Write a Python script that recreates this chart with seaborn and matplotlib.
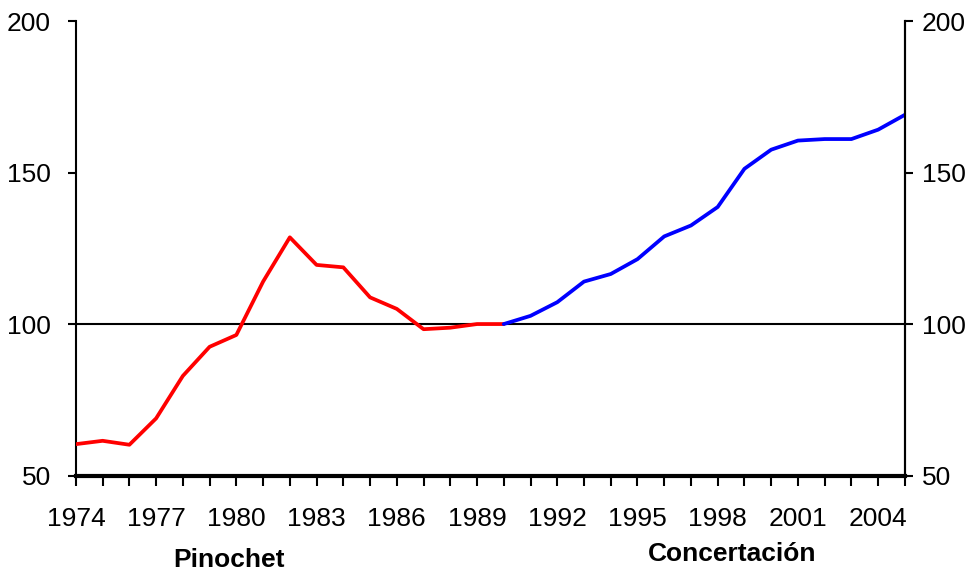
import matplotlib
matplotlib.use("Agg")
import matplotlib.pyplot as plt
import seaborn as sns
import pandas as pd
import numpy as np

years = list(range(1974, 2006))
values = [60.5, 61.6, 60.3, 69.0, 83.0, 92.6, 96.5, 114.1, 128.7, 119.6, 118.8,
          108.9, 105.1, 98.4, 98.9, 100.1, 100.1, 102.8, 107.3, 114.1, 116.6,
          121.5, 129.0, 132.6, 138.7, 151.3, 157.6, 160.6, 161.1, 161.1, 164.2, 169.1]
transition_year = 1990
period_names = ["Pinochet", "Concertación"]
period_colors = ["#ff0000", "#0000ff"]
y_ticks = [50, 100, 150, 200]
x_label_years = list(range(1974, 2005, 3))

df = pd.DataFrame({"year": years, "value": values})
pin = df[df["year"] <= transition_year].assign(period=period_names[0])
con = df[df["year"] >= transition_year].assign(period=period_names[1])
data = pd.concat([pin, con], ignore_index=True)

sns.set_theme(style="white")
plt.rcParams["font.family"] = ["Liberation Sans", "DejaVu Sans"]
plt.rcParams["text.color"] = "black"
plt.rcParams["xtick.color"] = "black"
plt.rcParams["ytick.color"] = "black"

fig = plt.figure(figsize=(9.73, 5.78), dpi=100)
ax = fig.add_axes([0.078, 0.1765, 0.852, 0.787])

ax.axhline(100, color="black", lw=1.5, zorder=1)
sns.lineplot(data=data, x="year", y="value", hue="period",
             palette=dict(zip(period_names, period_colors)),
             lw=2.7, legend=False, ax=ax, zorder=3)

ax.set_xlim(years[0], years[-1])
ax.set_ylim(50, 200)
ax.set_xlabel("")
ax.set_ylabel("")

ax.set_xticks(years)
ax.set_xticklabels([str(y) if y in x_label_years else "" for y in years])
ax.set_yticks(y_ticks)
ax.set_yticklabels([str(t) for t in y_ticks])

ax.spines["top"].set_visible(False)
for s in ["left", "right"]:
    ax.spines[s].set_color("black")
    ax.spines[s].set_linewidth(1.5)
ax.spines["bottom"].set_color("black")
ax.spines["bottom"].set_linewidth(3)

ax.tick_params(axis="x", direction="out", length=7, width=1.5, color="black",
               bottom=True, pad=15, labelsize=19, labelcolor="black")
ax.tick_params(axis="y", direction="out", length=6, width=1.5, color="black",
               left=True, right=False, pad=12, labelsize=19, labelcolor="black")

ax2 = ax.twinx()
ax2.set_ylim(50, 200)
ax2.set_yticks(y_ticks)
ax2.set_yticklabels([str(t) for t in y_ticks])
ax2.grid(False)
for s in ["top", "left", "bottom"]:
    ax2.spines[s].set_visible(False)
ax2.spines["right"].set_color("black")
ax2.spines["right"].set_linewidth(1.5)
ax2.tick_params(axis="y", direction="out", length=6, width=1.5, color="black",
                right=True, pad=6, labelsize=19, labelcolor="black")

fig.text(229 / 973, 1 - 560 / 578, period_names[0], ha="center", va="center",
         fontsize=19, fontweight="bold")
fig.text(732 / 973, 1 - 554 / 578, period_names[1], ha="center", va="center",
         fontsize=19, fontweight="bold")

fig.savefig("out.png", dpi=100)
